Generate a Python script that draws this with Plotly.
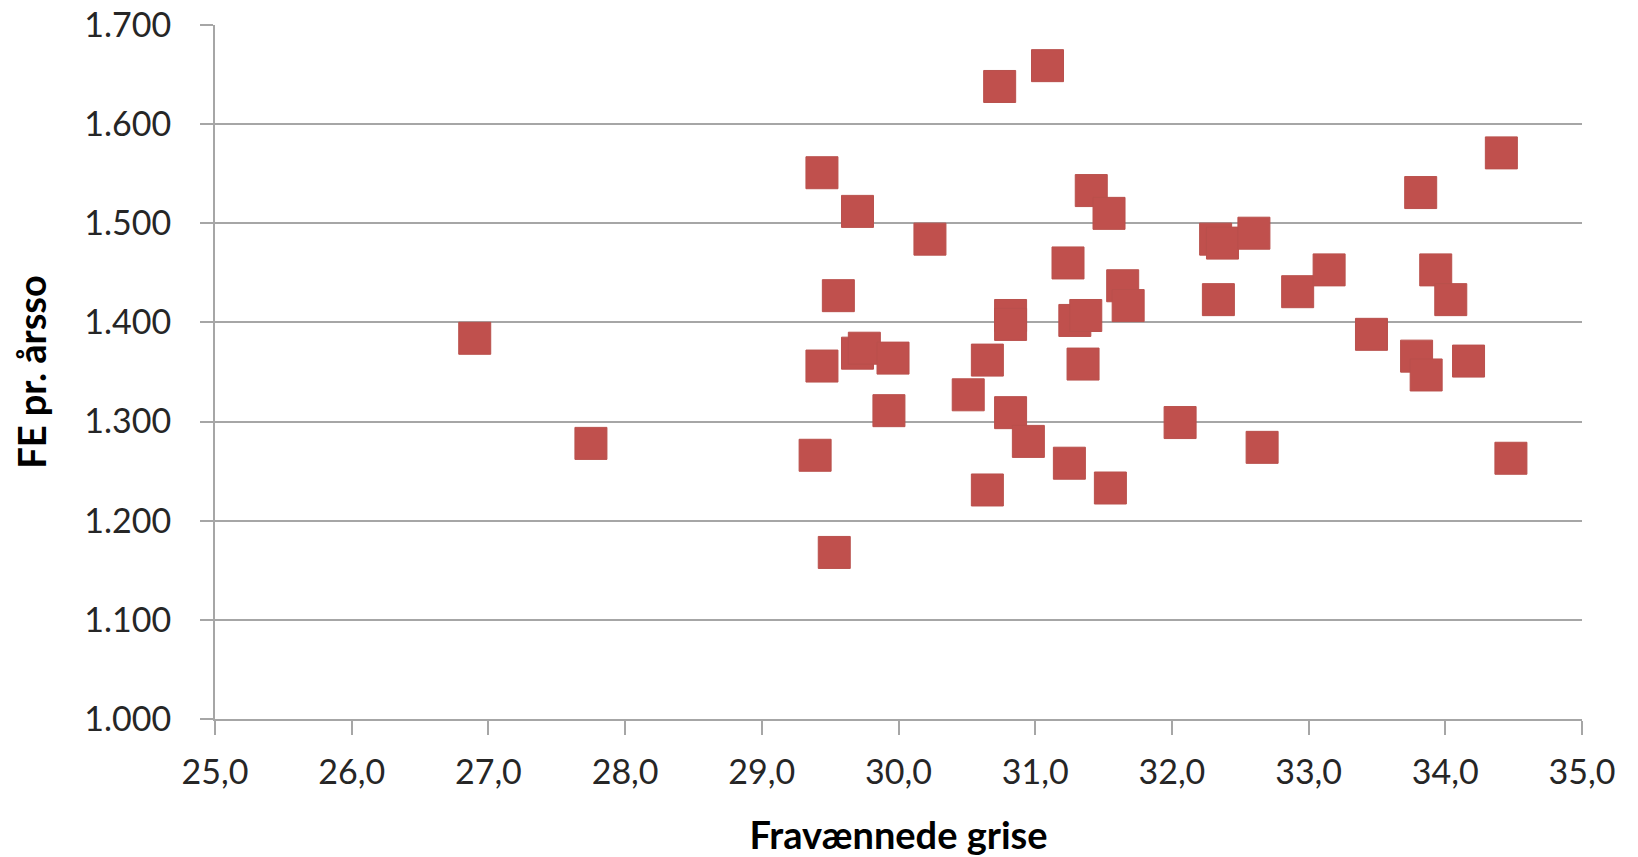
import plotly.graph_objects as go

# Fravænnede grise (x) and FE pr. årsso (y)
fravaennede_grise = [26.90, 27.75, 29.44, 29.70, 30.23, 31.41, 31.54, 31.24, 29.56, 31.64,
                     31.68, 30.82, 30.82, 31.29, 31.37, 29.44, 29.70, 29.75, 29.96, 29.93,
                     30.65, 30.51, 30.82, 30.95, 31.35, 31.25, 31.55, 29.39, 30.65, 29.53,
                     32.32, 32.37, 32.60, 32.34, 32.92, 33.15, 32.06, 32.66, 33.46, 33.82,
                     33.93, 34.04, 33.79, 33.86, 34.17, 34.41, 34.48, 30.74, 31.09]
fe_pr_aarsso = [1384, 1278, 1551, 1512, 1484, 1533, 1510, 1460, 1427, 1437,
                1417, 1407, 1398, 1402, 1407, 1356, 1369, 1374, 1364, 1311,
                1362, 1327, 1309, 1280, 1358, 1258, 1233, 1266, 1231, 1168,
                1484, 1480, 1490, 1423, 1431, 1453, 1299, 1274, 1388, 1531,
                1453, 1423, 1366, 1347, 1361, 1571, 1263, 1638, 1659]

x_ticks = [25, 26, 27, 28, 29, 30, 31, 32, 33, 34, 35]
y_ticks = [1000, 1100, 1200, 1300, 1400, 1500, 1600, 1700]

FONT = "Lato"
GRID = "#A6A6A6"

fig = go.Figure(go.Scatter(
    x=fravaennede_grise, y=fe_pr_aarsso, mode="markers",
    marker=dict(symbol="square", size=32, color="#C0504D",
                line=dict(color="#B9504C", width=1)),
    hoverinfo="x+y",
))

fig.update_layout(
    width=1630, height=849,
    margin=dict(l=207, r=56, t=17, b=138),
    paper_bgcolor="white", plot_bgcolor="white",
    separators=",.",
    showlegend=False,
    font=dict(family=FONT, color="#262626", size=34),
)
fig.update_xaxes(
    range=[25, 35], tickvals=x_ticks, tickformat=".1f",
    automargin=False, ticklabeloverflow="allow",
    showgrid=False, zeroline=False,
    showline=True, linecolor=GRID, linewidth=2,
    ticks="outside", ticklen=14, tickwidth=2, tickcolor=GRID,
    ticklabelstandoff=8,
    tickfont=dict(family=FONT, size=34, color="#262626"),
    title=dict(text="<b>Fravænnede grise</b>", standoff=33,
               font=dict(family=FONT, size=38, color="#000000")),
)
fig.update_yaxes(
    range=[1000, 1700], tickvals=y_ticks, tickformat=",d",
    automargin=False, ticklabeloverflow="allow",
    showgrid=True, gridcolor=GRID, gridwidth=2, zeroline=False,
    showline=True, linecolor=GRID, linewidth=2,
    ticks="outside", ticklen=13, tickwidth=2, tickcolor=GRID,
    ticklabelstandoff=22,
    tickfont=dict(family=FONT, size=34, color="#262626"),
    title=dict(text="<b>FE pr. årsso</b>", standoff=26,
               font=dict(family=FONT, size=38, color="#000000")),
)

fig.write_html("out.html")
